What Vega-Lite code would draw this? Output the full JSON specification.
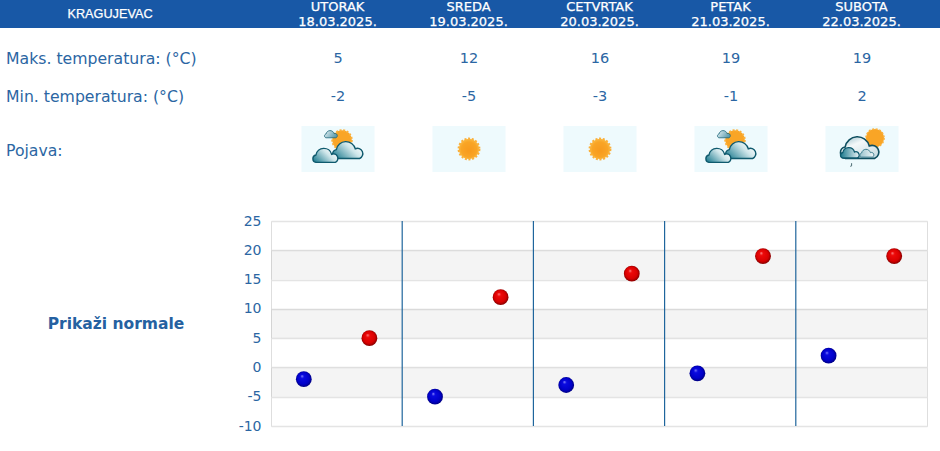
{
  "$schema": "https://vega.github.io/schema/vega-lite/v6.json",
  "padding": 0,
  "background": "white",
  "spacing": 0,
  "config": {
    "view": {"stroke": null},
    "concat": {"spacing": 0},
    "text": {"font": "DejaVu Sans", "fontSize": 14, "color": "#2b66a3"}
  },
  "datasets": {
    "city": [
      {"col": "grad", "row": "grad", "text": "KRAGUJEVAC"}
    ],
    "header": [
      {"col": "d1", "row": "dan", "text": "UTORAK"},
      {"col": "d2", "row": "dan", "text": "SREDA"},
      {"col": "d3", "row": "dan", "text": "CETVRTAK"},
      {"col": "d4", "row": "dan", "text": "PETAK"},
      {"col": "d5", "row": "dan", "text": "SUBOTA"},
      {"col": "d1", "row": "datum", "text": "18.03.2025."},
      {"col": "d2", "row": "datum", "text": "19.03.2025."},
      {"col": "d3", "row": "datum", "text": "20.03.2025."},
      {"col": "d4", "row": "datum", "text": "21.03.2025."},
      {"col": "d5", "row": "datum", "text": "22.03.2025."}
    ],
    "labels": [
      {"col": "oznaka", "row": "maks", "text": "Maks. temperatura: (°C)"},
      {"col": "oznaka", "row": "min", "text": "Min. temperatura: (°C)"}
    ],
    "pojava": [
      {"col": "oznaka", "row": "pojava", "text": "Pojava:"}
    ],
    "values": [
      {"col": "d1", "row": "maks", "text": "5"},
      {"col": "d2", "row": "maks", "text": "12"},
      {"col": "d3", "row": "maks", "text": "16"},
      {"col": "d4", "row": "maks", "text": "19"},
      {"col": "d5", "row": "maks", "text": "19"},
      {"col": "d1", "row": "min", "text": "-2"},
      {"col": "d2", "row": "min", "text": "-5"},
      {"col": "d3", "row": "min", "text": "-3"},
      {"col": "d4", "row": "min", "text": "-1"},
      {"col": "d5", "row": "min", "text": "2"}
    ],
    "icons": [
      {"col": "d1", "row": "ikona", "icon": "oblak"},
      {"col": "d2", "row": "ikona", "icon": "sunce"},
      {"col": "d3", "row": "ikona", "icon": "sunce"},
      {"col": "d4", "row": "ikona", "icon": "oblak"},
      {"col": "d5", "row": "ikona", "icon": "kisa"}
    ],
    "temps": [
      {"day": "18.03.2025.", "series": "min", "value": -2},
      {"day": "18.03.2025.", "series": "max", "value": 5},
      {"day": "19.03.2025.", "series": "min", "value": -5},
      {"day": "19.03.2025.", "series": "max", "value": 12},
      {"day": "20.03.2025.", "series": "min", "value": -3},
      {"day": "20.03.2025.", "series": "max", "value": 16},
      {"day": "21.03.2025.", "series": "min", "value": -1},
      {"day": "21.03.2025.", "series": "max", "value": 19},
      {"day": "22.03.2025.", "series": "min", "value": 2},
      {"day": "22.03.2025.", "series": "max", "value": 19}
    ],
    "bands": [
      {"from": 15, "to": 20},
      {"from": 5, "to": 10},
      {"from": -5, "to": 0}
    ],
    "dividers": [
      {"day": "19.03.2025."},
      {"day": "20.03.2025."},
      {"day": "21.03.2025."},
      {"day": "22.03.2025."}
    ]
  },
  "vconcat": [
    {
      "width": 940,
      "height": 28,
      "view": {"fill": "#1858a6"},
      "resolve": {"scale": {"x": "independent"}},
      "encoding": {
        "y": {"field": "row", "type": "ordinal", "axis": null, "scale": {"type": "point", "padding": 0, "domain": ["dan", "grad", "datum"], "range": [7, 21.5]}},
        "text": {"field": "text"}
      },
      "layer": [
        {
          "data": {"name": "city"},
          "mark": {"type": "text", "color": "white", "fontSize": 12.7, "font": "Liberation Sans", "stroke": "white", "strokeWidth": 0.25},
          "encoding": {"x": {"field": "col", "type": "ordinal", "axis": null, "scale": {"type": "point", "padding": 0, "domain": ["grad"], "range": [110, 110]}}}
        },
        {
          "data": {"name": "header"},
          "mark": {"type": "text", "color": "white", "fontSize": 13, "stroke": "white", "strokeWidth": 0.25},
          "encoding": {
            "x": {"field": "col", "type": "ordinal", "axis": null, "scale": {"type": "point", "padding": 0, "domain": ["d1", "d2", "d3", "d4", "d5"], "range": [337.5, 861.5]}},
            "font": {"condition": {"test": "datum.row === 'datum'", "value": "DejaVu Sans"}, "value": "Liberation Sans"}
          }
        }
      ]
    },
    {
      "width": 940,
      "height": 87,
      "resolve": {"scale": {"x": "independent"}},
      "encoding": {
        "y": {"field": "row", "type": "ordinal", "axis": null, "scale": {"type": "point", "padding": 0, "domain": ["maks", "min"], "range": [30, 68]}},
        "text": {"field": "text"}
      },
      "layer": [
        {
          "data": {"name": "labels"},
          "mark": {"type": "text", "align": "left", "fontSize": 15.7},
          "encoding": {"x": {"field": "col", "type": "ordinal", "axis": null, "scale": {"type": "point", "padding": 0, "domain": ["oznaka"], "range": [6, 6]}}}
        },
        {
          "data": {"name": "values"},
          "mark": {"type": "text", "align": "center", "fontSize": 14.5},
          "encoding": {"x": {"field": "col", "type": "ordinal", "axis": null, "scale": {"type": "point", "padding": 0, "domain": ["d1", "d2", "d3", "d4", "d5"], "range": [338, 862]}}}
        }
      ]
    },
    {
      "width": 940,
      "height": 97,
      "resolve": {"scale": {"x": "independent"}},
      "encoding": {
        "y": {"field": "row", "type": "ordinal", "axis": null, "scale": {"type": "point", "padding": 0, "domain": ["ikona", "pojava"], "range": [33, 35]}}
      },
      "layer": [
        {
          "data": {"name": "pojava"},
          "mark": {"type": "text", "align": "left", "fontSize": 15.7},
          "encoding": {
            "text": {"field": "text"},
            "x": {"field": "col", "type": "ordinal", "axis": null, "scale": {"type": "point", "padding": 0, "domain": ["oznaka"], "range": [6, 6]}}
          }
        },
        {
          "data": {"name": "icons"},
          "encoding": {
            "x": {"field": "col", "type": "ordinal", "axis": null, "scale": {"type": "point", "padding": 0, "domain": ["d1", "d2", "d3", "d4", "d5"], "range": [338, 862]}}
          },
          "layer": [
            {"mark": {"type": "rect", "width": 73, "height": 46, "fill": "#eefafd"}},
            {
              "transform": [{"filter": "datum.icon === 'sunce'"}],
              "mark": {"type": "point", "shape": "circle", "size": 415, "filled": true, "opacity": 1, "stroke": "#fbb03a", "strokeWidth": 2.5, "strokeDash": [2, 1.6],
                "fill": {"gradient": "radial", "x1": 0.5, "y1": 0.6, "r1": 0, "x2": 0.5, "y2": 0.5, "r2": 0.55, "stops": [{"offset": 0, "color": "#f89a1c"}, {"offset": 0.7, "color": "#f9a526"}, {"offset": 1, "color": "#fcc24a"}]}}
            },
            {
              "transform": [{"filter": "datum.icon === 'oblak'"}],
              "mark": {"type": "point", "shape": "circle", "size": 380, "filled": true, "opacity": 1, "xOffset": 4, "yOffset": -9, "stroke": "#fbb03a", "strokeWidth": 2, "strokeDash": [2, 1.6], "fill": "#f9a526"}
            },
            {
              "transform": [{"filter": "datum.icon === 'oblak'"}],
              "mark": {"type": "point", "size": 190, "filled": true, "opacity": 1, "xOffset": -7, "yOffset": -15, "strokeWidth": 0.8, "stroke": "#1a6478",
                "shape": "M-0.72,0.55 A0.28,0.28 0 0 1 -0.72,0 A0.6,0.6 0 0 1 0.45,-0.05 A0.32,0.32 0 0 1 0.72,0.55 Z",
                "fill": {"gradient": "linear", "x1": 0, "y1": 0, "x2": 1, "y2": 0.4, "stops": [{"offset": 0, "color": "#e8f2f5"}, {"offset": 1, "color": "#5f9fb0"}]}}
            },
            {
              "transform": [{"filter": "datum.icon === 'oblak'"}],
              "mark": {"type": "point", "size": 1050, "filled": true, "opacity": 1, "xOffset": 10, "yOffset": 0.6, "strokeWidth": 1.4, "stroke": "#0f5a6e",
                "shape": "M-0.72,0.55 A0.28,0.28 0 0 1 -0.72,0 A0.6,0.6 0 0 1 0.45,-0.05 A0.32,0.32 0 0 1 0.72,0.55 Z",
                "fill": {"gradient": "linear", "x1": 0, "y1": 0.9, "x2": 1, "y2": 0.3, "stops": [{"offset": 0, "color": "#1b7a8e"}, {"offset": 0.65, "color": "#cfe6ea"}, {"offset": 1, "color": "#ffffff"}]}}
            },
            {
              "transform": [{"filter": "datum.icon === 'oblak'"}],
              "mark": {"type": "point", "size": 720, "filled": true, "opacity": 1, "xOffset": -12.4, "yOffset": 6, "strokeWidth": 1.4, "stroke": "#0f5a6e",
                "shape": "M-0.72,0.55 A0.28,0.28 0 0 1 -0.72,0 A0.6,0.6 0 0 1 0.45,-0.05 A0.32,0.32 0 0 1 0.72,0.55 Z",
                "fill": {"gradient": "linear", "x1": 0, "y1": 0.9, "x2": 1, "y2": 0.3, "stops": [{"offset": 0, "color": "#1b7a8e"}, {"offset": 0.65, "color": "#cfe6ea"}, {"offset": 1, "color": "#ffffff"}]}}
            },
            {
              "transform": [{"filter": "datum.icon === 'kisa'"}],
              "mark": {"type": "point", "shape": "circle", "size": 330, "filled": true, "opacity": 1, "xOffset": 13, "yOffset": -11, "stroke": "#fbb03a", "strokeWidth": 1.5, "strokeDash": [2, 1.6], "fill": "#f9a526"}
            },
            {
              "transform": [{"filter": "datum.icon === 'kisa'"}],
              "mark": {"type": "point", "size": 1700, "filled": true, "opacity": 1, "xOffset": -2, "yOffset": -2, "strokeWidth": 1.6, "stroke": "#0f4f60",
                "shape": "M-0.72,0.55 A0.28,0.28 0 0 1 -0.72,0 A0.6,0.6 0 0 1 0.45,-0.05 A0.32,0.32 0 0 1 0.72,0.55 Z",
                "fill": {"gradient": "linear", "x1": 0, "y1": 0, "x2": 0.8, "y2": 1, "stops": [{"offset": 0, "color": "#8fb8c4"}, {"offset": 0.4, "color": "#f4f8f9"}, {"offset": 1, "color": "#c9dde2"}]}}
            },
            {
              "transform": [{"filter": "datum.icon === 'kisa'"}],
              "mark": {"type": "point", "size": 400, "filled": true, "opacity": 1, "xOffset": -12, "yOffset": 3.5, "strokeWidth": 1.3, "stroke": "#0f5a6e",
                "shape": "M-0.72,0.55 A0.28,0.28 0 0 1 -0.72,0 A0.6,0.6 0 0 1 0.45,-0.05 A0.32,0.32 0 0 1 0.72,0.55 Z",
                "fill": {"gradient": "linear", "x1": 0, "y1": 0.5, "x2": 1, "y2": 0.5, "stops": [{"offset": 0, "color": "#1b7a8e"}, {"offset": 1, "color": "#e8f2f5"}]}}
            },
            {
              "transform": [{"filter": "datum.icon === 'kisa'"}],
              "mark": {"type": "point", "size": 225, "filled": true, "opacity": 1, "xOffset": 5, "yOffset": 4, "strokeWidth": 1, "stroke": "#3f7f90",
                "shape": "M-0.72,0.55 A0.28,0.28 0 0 1 -0.72,0 A0.6,0.6 0 0 1 0.45,-0.05 A0.32,0.32 0 0 1 0.72,0.55 Z",
                "fill": {"gradient": "linear", "x1": 0, "y1": 0.5, "x2": 1, "y2": 0.5, "stops": [{"offset": 0, "color": "#9cc4ce"}, {"offset": 1, "color": "#f0f6f7"}]}}
            },
            {
              "transform": [{"filter": "datum.icon === 'kisa'"}],
              "mark": {"type": "point", "size": 36, "filled": false, "opacity": 1, "xOffset": -11, "yOffset": 16, "strokeWidth": 1, "stroke": "#4a6a72",
                "shape": "M0.2,-0.6 L0.2,0.3 A0.3,0.3 0 0 1 -0.3,0.3"}
            }
          ]
        }
      ]
    },
    {
      "spacing": 5,
      "hconcat": [
        {
          "width": 232,
          "height": 205,
          "data": {"values": [{"text": "Prikaži normale"}]},
          "mark": {"type": "text", "fontWeight": "bold", "fontSize": 15.5, "color": "#2561a1"},
          "encoding": {"text": {"field": "text"}}
        },
        {
          "width": 656,
          "height": 205,
          "view": {"stroke": "#dedede"},
          "layer": [
            {
              "data": {"name": "bands"},
              "mark": {"type": "rect", "fill": "black", "opacity": 0.045},
              "encoding": {
                "y": {"field": "from", "type": "quantitative", "scale": {"domain": [-10, 25], "nice": false}, "axis": {"title": null, "values": [-10, -5, 0, 5, 10, 15, 20, 25], "labelExpr": "'' + datum.value", "grid": true, "gridColor": "#e4e4e4", "gridWidth": 1.5, "domain": false, "ticks": false, "labelPadding": 10, "labelColor": "#2b66a3", "labelFont": "DejaVu Sans", "labelFontSize": 14}},
                "y2": {"field": "to"}
              }
            },
            {
              "data": {"name": "dividers"},
              "mark": {"type": "rule", "color": "#1f659c", "strokeWidth": 1.2},
              "encoding": {
                "x": {"field": "day", "type": "nominal", "bandPosition": 0, "axis": null, "scale": {"type": "band", "paddingInner": 0, "paddingOuter": 0, "domain": ["18.03.2025.", "19.03.2025.", "20.03.2025.", "21.03.2025.", "22.03.2025."]}}
              }
            },
            {
              "data": {"name": "temps"},
              "transform": [{"filter": "datum.series === 'min'"}],
              "mark": {"type": "point", "shape": "circle", "size": 250, "filled": true, "opacity": 1,
                "fill": {"gradient": "radial", "x1": 0.38, "y1": 0.3, "r1": 0, "x2": 0.5, "y2": 0.5, "r2": 0.55, "stops": [{"offset": 0, "color": "#9a9aff"}, {"offset": 0.2, "color": "#0a0ae0"}, {"offset": 0.7, "color": "#0000c8"}, {"offset": 1, "color": "#00006a"}]}},
              "encoding": {
                "x": {"field": "day", "type": "nominal", "axis": null},
                "xOffset": {"field": "series", "type": "nominal", "scale": {"type": "point", "padding": 0.5, "domain": ["min", "max"]}},
                "y": {"field": "value", "type": "quantitative", "axis": {"title": null, "values": [-10, -5, 0, 5, 10, 15, 20, 25], "labelExpr": "'' + datum.value", "grid": true, "gridColor": "#e4e4e4", "gridWidth": 1.5, "domain": false, "ticks": false, "labelPadding": 10, "labelColor": "#2b66a3", "labelFont": "DejaVu Sans", "labelFontSize": 14}}
              }
            },
            {
              "data": {"name": "temps"},
              "transform": [{"filter": "datum.series === 'max'"}],
              "mark": {"type": "point", "shape": "circle", "size": 250, "filled": true, "opacity": 1,
                "fill": {"gradient": "radial", "x1": 0.38, "y1": 0.3, "r1": 0, "x2": 0.5, "y2": 0.5, "r2": 0.55, "stops": [{"offset": 0, "color": "#ff9a9a"}, {"offset": 0.2, "color": "#ee0a0a"}, {"offset": 0.7, "color": "#d80000"}, {"offset": 1, "color": "#6a0000"}]}},
              "encoding": {
                "x": {"field": "day", "type": "nominal", "axis": null},
                "xOffset": {"field": "series", "type": "nominal", "scale": {"type": "point", "padding": 0.5, "domain": ["min", "max"]}},
                "y": {"field": "value", "type": "quantitative", "axis": {"title": null, "values": [-10, -5, 0, 5, 10, 15, 20, 25], "labelExpr": "'' + datum.value", "grid": true, "gridColor": "#e4e4e4", "gridWidth": 1.5, "domain": false, "ticks": false, "labelPadding": 10, "labelColor": "#2b66a3", "labelFont": "DejaVu Sans", "labelFontSize": 14}}
              }
            }
          ]
        }
      ]
    }
  ]
}
